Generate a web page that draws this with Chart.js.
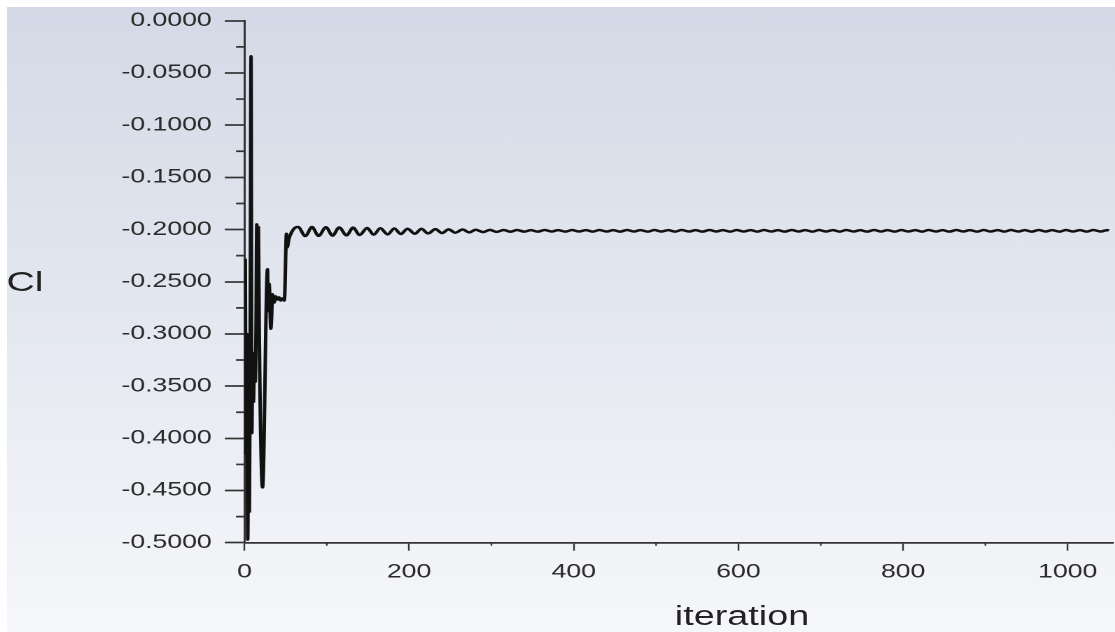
<!DOCTYPE html>
<html>
<head>
<meta charset="utf-8">
<title>Cl convergence</title>
<script src="https://cdn.jsdelivr.net/npm/chart.js@4.4.1/dist/chart.umd.min.js"></script>
<style>
  html, body { margin: 0; padding: 0; background: #fff; }
  body { width: 1115px; height: 632px; position: relative; overflow: hidden; }
  #bg {
    position: absolute; left: 7px; top: 7px; right: 0; bottom: 0;
    background: linear-gradient(to bottom, #d3d9e6 0%, #e2e6ef 45%, #f6f7fa 100%);
  }
  /* the whole plot is drawn narrow and widened, like the solver's monitor export */
  #stretch {
    position: absolute; left: 0; top: 0; width: 797px; height: 632px;
    transform: scaleX(1.4); transform-origin: 0 0;
  }
  #plot { position: absolute; left: 0; top: 0; }
  .axis-title {
    position: absolute; line-height: 1; white-space: nowrap; color: #222;
    font-family: 'Liberation Sans', Arial, sans-serif;
  }
  #ytitle { left: 4.6px; top: 268px; font-size: 28px; }
  #xtitle { left: 482px; top: 603px; font-size: 27px; }
</style>
</head>
<body>
<div id="bg"></div>
<div id="stretch">
  <canvas id="plot" width="797" height="632"></canvas>
  <div id="ytitle" class="axis-title">Cl</div>
  <div id="xtitle" class="axis-title">iteration</div>
</div>
<script>
// start-up transient: iteration / lift coefficient
const earlyIters = [1, 2, 3, 4, 5, 6, 7, 8, 9, 10, 11, 12, 13, 14, 15, 16, 17, 18, 22, 28, 29, 30, 32, 33, 34,
  36, 38, 40, 42, 44, 46, 48, 49, 51, 52, 54, 57, 61];
const earlyCl = [-0.228, -0.415, -0.300, -0.497, -0.385, -0.470, -0.310, -0.034, -0.395, -0.318, -0.365, -0.332,
  -0.346, -0.300, -0.195, -0.255, -0.198, -0.300, -0.447, -0.238, -0.278, -0.252, -0.295, -0.284, -0.262,
  -0.270, -0.264, -0.267, -0.265, -0.268, -0.266, -0.268, -0.262, -0.204, -0.217, -0.209, -0.203, -0.1985];

// settled part: crests and troughs of the residual oscillation
const tailIters = [65, 74, 82, 90, 99, 107, 115, 124, 132, 140, 149, 157, 165, 174, 182, 190, 198, 207, 215, 223,
  232, 240, 248, 256, 265, 273, 281, 290, 298, 306, 315, 323, 331, 340, 348, 356, 365, 373, 381, 390,
  398, 406, 415, 423, 431, 440, 448, 456, 465, 473, 481, 490, 498, 506, 515, 523, 531, 540, 548, 556,
  565, 573, 581, 590, 598, 606, 615, 623, 631, 640, 648, 656, 665, 673, 681, 690, 698, 706, 715, 723,
  731, 740, 748, 756, 765, 773, 781, 790, 798, 806, 815, 823, 831, 840, 848, 856, 865, 873, 881, 890,
  898, 906, 915, 923, 931, 940, 948, 956, 965, 973, 981, 990, 998, 1006, 1015, 1023, 1031, 1040, 1048, 1050];
const tailCl = [-0.1975, -0.2062, -0.1976, -0.2060, -0.1978, -0.2058, -0.1980, -0.2055, -0.1982, -0.2052,
  -0.1985, -0.2049, -0.1988, -0.2046, -0.1990, -0.2043, -0.1992, -0.2040, -0.1994, -0.2037,
  -0.1996, -0.2034, -0.1998, -0.2030, -0.2000, -0.2027, -0.2002, -0.2024, -0.2003, -0.2022,
  -0.2004, -0.2021, -0.2004, -0.2020, -0.2005, -0.2020, -0.2004, -0.2019, -0.2005, -0.2020,
  -0.2004, -0.2019, -0.2005, -0.2020, -0.2004, -0.2019, -0.2005, -0.2020, -0.2004, -0.2019,
  -0.2005, -0.2020, -0.2004, -0.2019, -0.2005, -0.2020, -0.2004, -0.2019, -0.2005, -0.2020,
  -0.2004, -0.2019, -0.2005, -0.2020, -0.2004, -0.2019, -0.2005, -0.2020, -0.2004, -0.2019,
  -0.2005, -0.2020, -0.2004, -0.2019, -0.2005, -0.2020, -0.2004, -0.2019, -0.2005, -0.2020,
  -0.2004, -0.2019, -0.2005, -0.2020, -0.2004, -0.2019, -0.2005, -0.2020, -0.2004, -0.2019,
  -0.2005, -0.2020, -0.2004, -0.2019, -0.2005, -0.2020, -0.2004, -0.2019, -0.2005, -0.2020,
  -0.2004, -0.2019, -0.2005, -0.2020, -0.2004, -0.2019, -0.2005, -0.2020, -0.2004, -0.2019,
  -0.2005, -0.2020, -0.2004, -0.2019, -0.2005, -0.2020, -0.2004, -0.2019, -0.2005, -0.2010];

// axis ticks
const xMajor = [0, 200, 400, 600, 800, 1000];
const xMinor = [100, 300, 500, 700, 900];
const yMajor = [-0.5, -0.45, -0.4, -0.35, -0.3, -0.25, -0.2, -0.15, -0.1, -0.05, 0];
const yMinor = [-0.475, -0.425, -0.375, -0.325, -0.275, -0.225, -0.175, -0.125, -0.075, -0.025];

const AXIS = '#333';
const FONT = "'Liberation Sans', Arial, sans-serif";

const iters = earlyIters.concat(tailIters);
const cl = earlyCl.concat(tailCl);

// short unlabeled ticks between the numbered ones
const minorTicks = {
  id: 'minorTicks',
  afterDraw(chart) {
    const { ctx, scales: { x, y } } = chart;
    ctx.save();
    ctx.strokeStyle = AXIS;
    ctx.lineWidth = 1.7;
    ctx.beginPath();
    yMinor.forEach(v => {
      const py = y.getPixelForValue(v);
      ctx.moveTo(y.right - 6, py);
      ctx.lineTo(y.right, py);
    });
    ctx.stroke();
    ctx.lineWidth = 1.2;
    ctx.beginPath();
    xMinor.forEach(v => {
      const px = x.getPixelForValue(v);
      ctx.moveTo(px, x.top);
      ctx.lineTo(px, x.top + 3);
    });
    ctx.stroke();
    ctx.restore();
  }
};

new Chart(document.getElementById('plot'), {
  type: 'line',
  data: {
    datasets: [{
      data: iters.map((it, i) => ({ x: it, y: cl[i] })),
      borderColor: '#111',
      borderWidth: 2.5,
      pointRadius: 0,
      cubicInterpolationMode: 'monotone',
      fill: false
    }]
  },
  options: {
    responsive: false,
    devicePixelRatio: 2,
    animation: false,
    layout: { padding: { top: 19, right: 2, left: 0, bottom: 0 } },
    plugins: { legend: { display: false }, tooltip: { enabled: false } },
    scales: {
      x: {
        type: 'linear', min: 0, max: 1055,
        afterBuildTicks: s => { s.ticks = xMajor.map(v => ({ value: v })); },
        afterFit: s => { s.height = 632 - 542.7; },
        border: { display: true, color: AXIS, width: 1.7 },
        grid: { display: true, drawOnChartArea: false, drawTicks: true, tickLength: 8, tickColor: AXIS, tickWidth: 1.2 },
        ticks: { padding: 10, color: '#2a2a2a', font: { family: FONT, size: 19 }, maxRotation: 0, autoSkip: false,
                 callback: v => String(v) }
      },
      y: {
        type: 'linear', min: -0.5, max: 0,
        afterBuildTicks: s => { s.ticks = yMajor.map(v => ({ value: v })); },
        afterFit: s => { s.width = 174.6; },
        border: { display: true, color: AXIS, width: 1.5 },
        grid: { display: true, drawOnChartArea: false, drawTicks: true, tickLength: 14, tickColor: AXIS, tickWidth: 1.7 },
        ticks: { padding: 9.4, color: '#2a2a2a', font: { family: FONT, size: 19 }, autoSkip: false,
                 callback: v => v.toFixed(4) }
      }
    }
  },
  plugins: [minorTicks]
});
</script>
</body>
</html>
